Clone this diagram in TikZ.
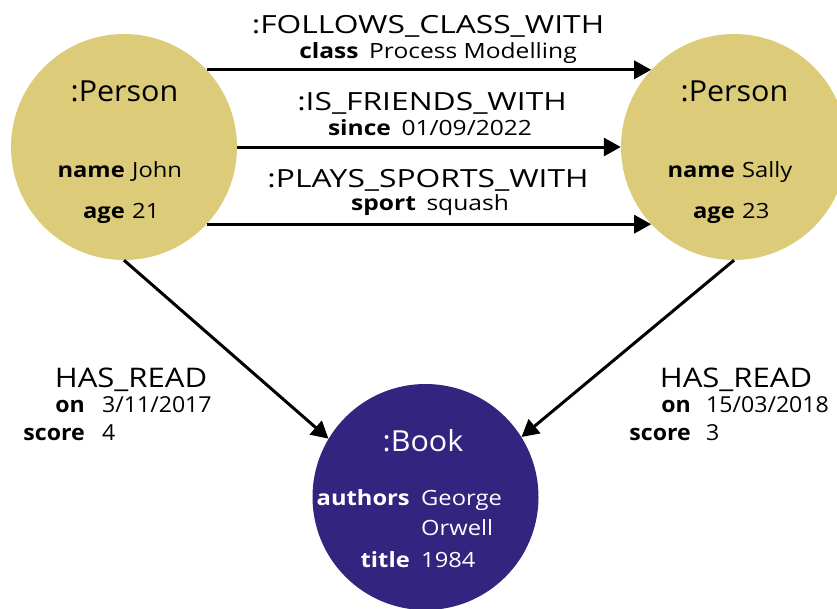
\documentclass[tikz,border=0pt]{standalone}
\usepackage{graphicx}
\usepackage{fontspec}
\setmainfont{Open Sans}
\usetikzlibrary{arrows.meta}
\definecolor{persongold}{HTML}{DCCB79}
\definecolor{bookpurple}{HTML}{33247F}

% horizontally widened text
\newcommand{\hstretch}[2]{\scalebox{#1}[1]{#2}}
\newcommand{\ti}[1]{\hstretch{1.05}{#1}}
\newcommand{\pr}[1]{\hstretch{1.13}{#1}}
\newcommand{\rt}[1]{\hstretch{1.27}{#1}}
\newcommand{\rp}[1]{\hstretch{1.17}{#1}}
\newcommand{\hr}[1]{\hstretch{1.15}{#1}}
\newcommand{\hp}[1]{\hstretch{1.05}{#1}}

\tikzset{
  entity/.style={circle, inner sep=0pt, minimum size=226pt},
  person/.style={entity, fill=persongold},
  bookent/.style={entity, fill=bookpurple},
  rel/.style={line width=3pt, -{Triangle[length=17pt,width=18pt]}},
  title/.style={font=\fontsize{29}{34}\selectfont, inner sep=0pt, anchor=base},
  key/.style={font=\fontsize{21}{25}\selectfont\bfseries, inner sep=0pt, anchor=base east},
  val/.style={font=\fontsize{21}{25}\selectfont, inner sep=0pt, anchor=base west},
  reltype/.style={font=\fontsize{25}{30}\selectfont, inner sep=0pt, anchor=base},
  relprop/.style={font=\fontsize{21}{25}\selectfont, inner sep=0pt, anchor=base},
  readtype/.style={font=\fontsize{27}{32}\selectfont, inner sep=0pt, anchor=base},
  readkey/.style={font=\fontsize{22}{26}\selectfont\bfseries, inner sep=0pt, anchor=base east},
  readval/.style={font=\fontsize{22}{26}\selectfont, inner sep=0pt, anchor=base west},
}

\begin{document}
\begin{tikzpicture}[x=1pt, y=-1pt]
  \useasboundingbox (0,0) rectangle (837,608);
  \clip (0,0) rectangle (837,608);

  % entities
  \node[person]  (john)  at (124,147) {};
  \node[person]  (sally) at (734,147) {};
  \node[bookent] (book)  at (425.5,497) {};

  % John
  \node[title] (johnlbl) at (124.5,101) {\ti{:Person}};
  \node[key] (johnk1) at (125,177) {\pr{name}};
  \node[val] (johnv1) at (132,177) {\pr{John}};
  \node[key] (johnk2) at (125,218) {\pr{age}};
  \node[val] (johnv2) at (132,218) {\pr{21}};

  % Sally
  \node[title] (sallylbl) at (734.5,101) {\ti{:Person}};
  \node[key] (sallyk1) at (735,177) {\pr{name}};
  \node[val] (sallyv1) at (742,177) {\pr{Sally}};
  \node[key] (sallyk2) at (735,218) {\pr{age}};
  \node[val] (sallyv2) at (742,218) {\pr{23}};

  % Book
  \begin{scope}[every node/.append style={text=white}]
    \node[title] (booklbl) at (423,451) {\ti{:Book}};
    \node[key] (bookk1) at (410,505) {\pr{authors}};
    \node[val] (bookv1) at (421,505) {\pr{George}};
    \node[val] (bookv1b) at (421,535) {\pr{Orwell}};
    \node[key] (bookk2) at (410,567) {\pr{title}};
    \node[val] (bookv2) at (421,567) {\pr{1984}};
  \end{scope}

  % relationships between the two persons
  \draw[rel] (john.43) -- (sally.137);
  \draw[rel] (john.east) -- (sally.west);
  \draw[rel] (john.-43) -- (sally.-137);

  \node[reltype] (follows) at (428,33) {\rt{:FOLLOWS\_CLASS\_WITH}};
  \node[relprop] (followsp) at (438,58) {\rp{\textbf{class}\hspace{9pt}Process Modelling}};
  \node[reltype] (friends) at (432,110) {\rt{:IS\_FRIENDS\_WITH}};
  \node[relprop] (friendsp) at (430,135) {\rp{\textbf{since}\hspace{9pt}01/09/2022}};
  \node[reltype] (sports) at (428,187) {\rt{:PLAYS\_SPORTS\_WITH}};
  \node[relprop] (sportsp) at (430,210) {\rp{\textbf{sport}\hspace{9pt}squash}};

  % reading relationships
  \draw[rel] (john.-90) -- (book.149);
  \draw[rel] (sally.-90) -- (book.32);

  \node[readtype] (readl) at (131,387) {\hr{HAS\_READ}};
  \node[readkey] (readlk1) at (85,412) {\hp{on}};
  \node[readval] (readlv1) at (102,412) {\hp{3/11/2017}};
  \node[readkey] (readlk2) at (85,440) {\hp{score}};
  \node[readval] (readlv2) at (102,440) {\hp{4}};

  \node[readtype] (readr) at (736,387) {\hr{HAS\_READ}};
  \node[readkey] (readrk1) at (691,412) {\hp{on}};
  \node[readval] (readrv1) at (706,412) {\hp{15/03/2018}};
  \node[readkey] (readrk2) at (691,440) {\hp{score}};
  \node[readval] (readrv2) at (706,440) {\hp{3}};
\end{tikzpicture}
\end{document}
